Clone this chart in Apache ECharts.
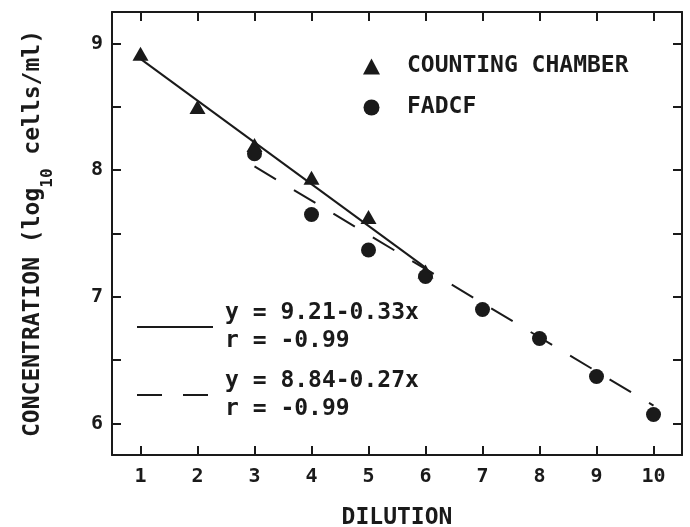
<!DOCTYPE html>
<html>
<head>
<meta charset="utf-8">
<script src="https://cdn.jsdelivr.net/npm/echarts@6/dist/echarts.min.js"></script>
<style>
  html, body { margin: 0; padding: 0; background: #fff; }
  #chart { width: 690px; height: 527px; }
</style>
</head>
<body>
<div id="chart"></div>
<script>
var dilution = [1, 2, 3, 4, 5, 6, 7, 8, 9, 10];
var chamberX = [1, 2, 3, 4, 5, 6];
var chamberY = [8.92, 8.50, 8.20, 7.94, 7.63, 7.20];
var fadcfX = [3, 4, 5, 6, 7, 8, 9, 10];
var fadcfY = [8.13, 7.65, 7.37, 7.16, 6.90, 6.67, 6.37, 6.07];
var fitChamber = [[1, 8.88], [6, 7.23]];
var fitFadcf = [[3, 8.03], [10, 6.14]];
var yTicks = [6, 6.5, 7, 7.5, 8, 8.5, 9];
var yLabels = [6, 7, 8, 9];
var fitText = {
  'CC fit': 'y = 9.21-0.33x\nr = -0.99',
  'FADCF fit': 'y = 8.84-0.27x\nr = -0.99'
};

var font = 'DejaVu Sans Mono';
var ink = '#1a1a1a';

function pairs(xs, ys) {
  return xs.map(function (x, i) { return [x, ys[i]]; });
}

var myChart = echarts.init(document.getElementById('chart'));

var baseX = {
  type: 'value', min: 0.5, max: 10.5,
  axisLine: { show: true, lineStyle: { color: ink, width: 2 } },
  axisTick: { show: true, inside: true, length: 9, customValues: dilution, lineStyle: { color: ink, width: 2 } },
  splitLine: { show: false }
};
var baseY = {
  type: 'value', min: 5.75, max: 9.25,
  axisLine: { show: true, lineStyle: { color: ink, width: 2 } },
  axisTick: { show: true, inside: true, length: 9, customValues: yTicks, lineStyle: { color: ink, width: 2 } },
  splitLine: { show: false }
};

var option = {
  backgroundColor: '#fff',
  animation: false,
  grid: { left: 112, right: 8, top: 12, bottom: 72, show: false, outerBoundsMode: 'none', containLabel: false },
  xAxis: [
    Object.assign({}, baseX, {
      position: 'bottom',
      name: 'DILUTION',
      nameLocation: 'middle',
      nameGap: 52,
      nameTextStyle: { fontFamily: font, fontSize: 23, fontWeight: 'bold', color: ink },
      axisLabel: { customValues: dilution, margin: 12, fontFamily: font, fontSize: 20, fontWeight: 'bold', color: ink }
    }),
    Object.assign({}, baseX, { position: 'top', axisLabel: { show: false } })
  ],
  yAxis: [
    Object.assign({}, baseY, {
      position: 'left',
      name: '{a|CONCENTRATION (log}{s|10}{a| cells/ml)}{h|}',
      nameLocation: 'middle',
      nameGap: 56,
      nameTextStyle: {
        color: ink,
        rich: {
          a: { fontFamily: font, fontSize: 23, fontWeight: 'bold', color: ink, lineHeight: 26, verticalAlign: 'top' },
          s: { fontFamily: font, fontSize: 16, fontWeight: 'bold', color: ink, lineHeight: 18, verticalAlign: 'bottom' },
          h: { lineHeight: 34, width: 0 }
        }
      },
      axisLabel: { customValues: yLabels, margin: 9, fontFamily: font, fontSize: 20, fontWeight: 'bold', color: ink }
    }),
    Object.assign({}, baseY, { position: 'right', axisLabel: { show: false } })
  ],
  legend: [
    {
      orient: 'vertical',
      left: 358, top: 50,
      itemWidth: 17, itemHeight: 16,
      itemGap: 18,
      textStyle: { fontFamily: font, fontSize: 23, fontWeight: 'bold', color: ink, padding: [0, 0, 0, 22] },
      data: ['COUNTING CHAMBER', 'FADCF'],
      selectedMode: false
    },
    {
      orient: 'vertical',
      left: 131, top: 294,
      itemWidth: 76, itemHeight: 10,
      itemGap: 12,
      itemStyle: { opacity: 0 },
      textStyle: { fontFamily: font, fontSize: 23, fontWeight: 'bold', color: ink, lineHeight: 28, padding: [0, 0, 0, 7] },
      formatter: function (name) { return fitText[name]; },
      data: ['CC fit', 'FADCF fit'],
      selectedMode: false
    }
  ],
  series: [
    {
      name: 'CC fit', type: 'line', data: fitChamber,
      symbol: 'none', silent: true,
      lineStyle: { color: ink, width: 2 },
      itemStyle: { color: ink }
    },
    {
      name: 'FADCF fit', type: 'line', data: fitFadcf,
      symbol: 'none', silent: true,
      lineStyle: { color: ink, width: 2, type: [25, 21] },
      itemStyle: { color: ink }
    },
    {
      name: 'COUNTING CHAMBER', type: 'scatter', data: pairs(chamberX, chamberY),
      symbol: 'triangle', symbolSize: [16, 14],
      itemStyle: { color: ink, opacity: 1 }
    },
    {
      name: 'FADCF', type: 'scatter', data: pairs(fadcfX, fadcfY),
      symbol: 'circle', symbolSize: 15,
      itemStyle: { color: ink, opacity: 1 }
    }
  ]
};
myChart.setOption(option);
</script>
</body>
</html>
